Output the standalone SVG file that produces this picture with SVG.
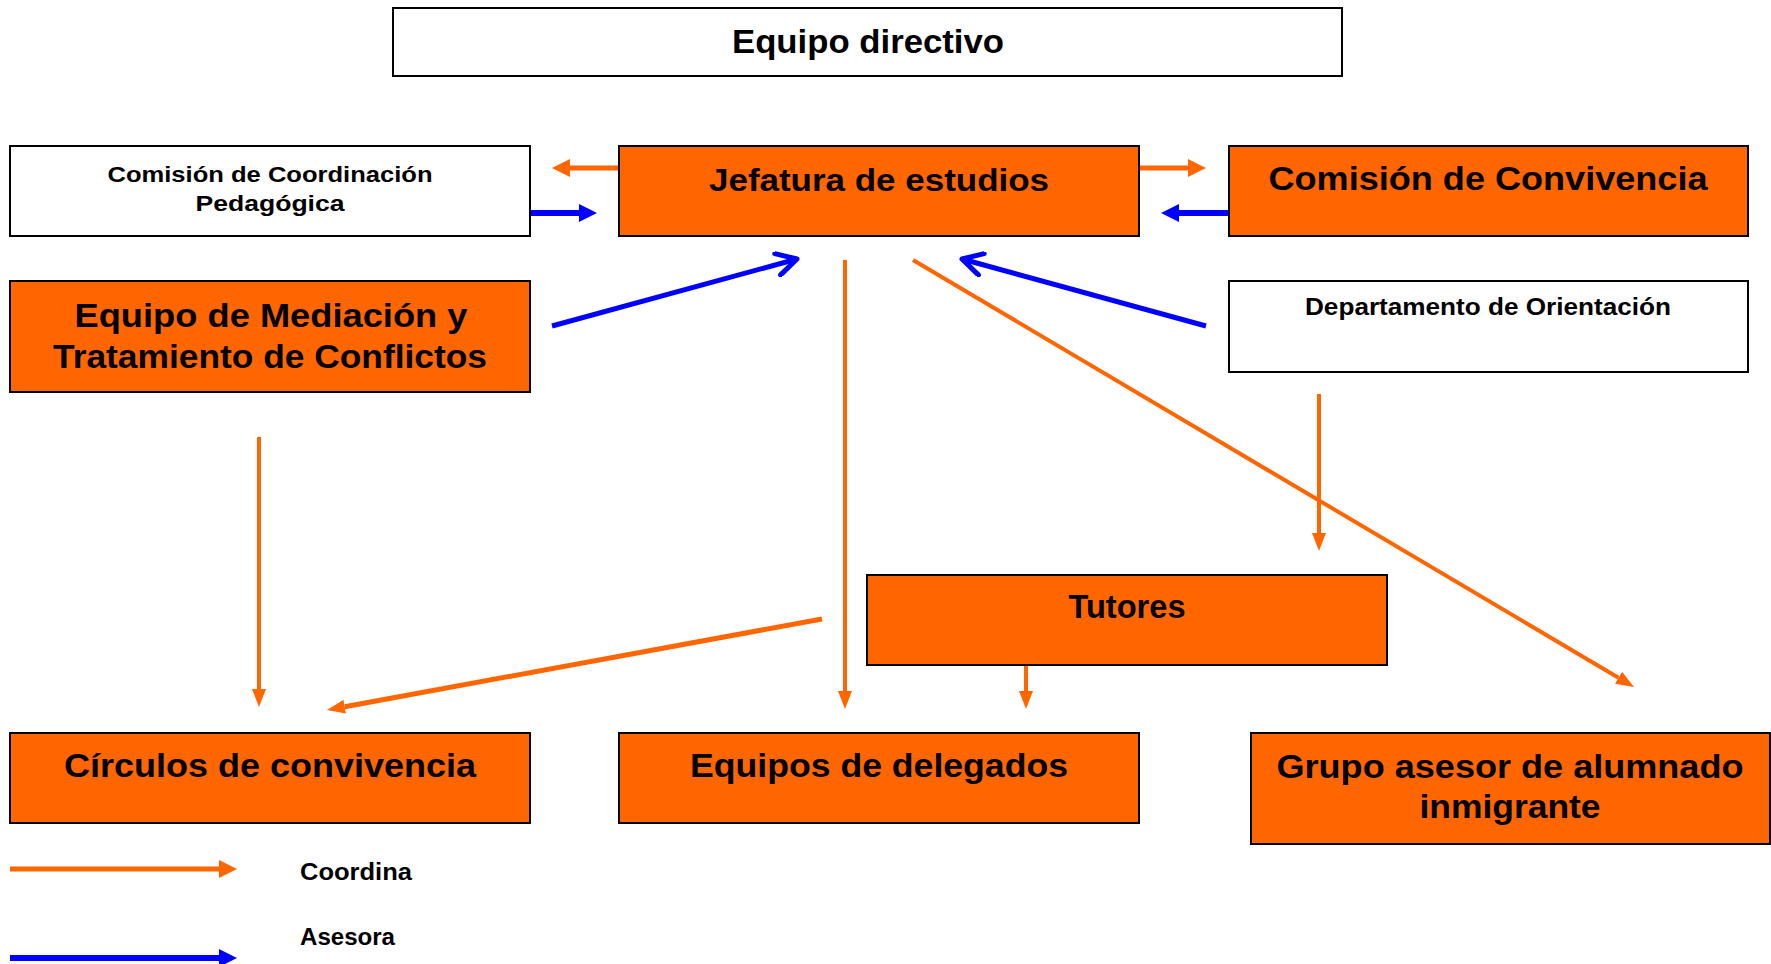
<svg xmlns="http://www.w3.org/2000/svg" width="1771" height="964" viewBox="0 0 1771 964">
<style>
.box{stroke:#000;stroke-width:2}
.w{fill:#fff}
.o{fill:#FF6600}
.t{font-family:"Liberation Sans",Arial,sans-serif;font-weight:bold;fill:#000;text-anchor:middle}
.lt{font-family:"Liberation Sans",Arial,sans-serif;font-weight:bold;fill:#000}
.oc{stroke:#FF6600;fill:none}
.bc{stroke:#0000FF;fill:none}
</style>
<defs>
<marker id="ol" viewBox="0 0 18 14" refX="0" refY="7" markerWidth="18" markerHeight="14" markerUnits="userSpaceOnUse" orient="auto"><path d="M0,0 L18,7 L0,14 z" fill="#FF6600"/></marker>
<marker id="os" viewBox="0 0 18 18" refX="0" refY="9" markerWidth="18" markerHeight="18" markerUnits="userSpaceOnUse" orient="auto"><path d="M0,0 L18,9 L0,18 z" fill="#FF6600"/></marker>
<marker id="bs" viewBox="0 0 18 18" refX="0" refY="9" markerWidth="18" markerHeight="18" markerUnits="userSpaceOnUse" orient="auto"><path d="M0,0 L18,9 L0,18 z" fill="#0000FF"/></marker>
<marker id="bo" viewBox="0 0 26 26" refX="23" refY="13" markerWidth="26" markerHeight="26" markerUnits="userSpaceOnUse" orient="auto"><path d="M3,2 L23,13 L3,24" fill="none" stroke="#0000FF" stroke-width="5" stroke-linecap="round" stroke-linejoin="round"/></marker>
</defs>

<g id="connectors">
<line class="oc" x1="619" y1="168" x2="570" y2="168" stroke-width="5" marker-end="url(#os)"/>
<line class="bc" x1="530" y1="213" x2="579" y2="213" stroke-width="6" marker-end="url(#bs)"/>
<line class="oc" x1="1139" y1="168" x2="1188" y2="168" stroke-width="5" marker-end="url(#os)"/>
<line class="bc" x1="1229" y1="213" x2="1179" y2="213" stroke-width="6" marker-end="url(#bs)"/>
<line class="bc" x1="552" y1="326" x2="797" y2="259" stroke-width="5" marker-end="url(#bo)"/>
<line class="bc" x1="1206" y1="326" x2="962" y2="259" stroke-width="5" marker-end="url(#bo)"/>
<line class="oc" x1="845" y1="260" x2="845" y2="691" stroke-width="4" marker-end="url(#ol)"/>
<line class="oc" x1="913" y1="260" x2="1618.5" y2="677.8" stroke-width="4" marker-end="url(#ol)"/>
<line class="oc" x1="1319" y1="394" x2="1319" y2="533" stroke-width="4" marker-end="url(#ol)"/>
<line class="oc" x1="259" y1="437" x2="259" y2="689" stroke-width="4" marker-end="url(#ol)"/>
<line class="oc" x1="822" y1="619" x2="344.7" y2="706.7" stroke-width="5" marker-end="url(#ol)"/>
<line class="oc" x1="1026" y1="665" x2="1026" y2="691" stroke-width="4" marker-end="url(#ol)"/>
</g>

<g id="equipo-directivo">
<rect class="box w" x="393" y="8" width="949" height="68"/>
<text class="t" x="868" y="53" font-size="34" textLength="272" lengthAdjust="spacingAndGlyphs">Equipo directivo</text>
</g>
<g id="ccp">
<rect class="box w" x="10" y="146" width="520" height="90"/>
<text class="t" x="270" y="182" font-size="22" textLength="325" lengthAdjust="spacingAndGlyphs">Comisión de Coordinación</text>
<text class="t" x="270" y="211" font-size="22" textLength="149" lengthAdjust="spacingAndGlyphs">Pedagógica</text>
</g>
<g id="jefatura">
<rect class="box o" x="619" y="146" width="520" height="90"/>
<text class="t" x="879" y="191" font-size="32" textLength="340" lengthAdjust="spacingAndGlyphs">Jefatura de estudios</text>
</g>
<g id="convivencia">
<rect class="box o" x="1229" y="146" width="519" height="90"/>
<text class="t" x="1488" y="190" font-size="34" textLength="439" lengthAdjust="spacingAndGlyphs">Comisión de Convivencia</text>
</g>
<g id="mediacion">
<rect class="box o" x="10" y="281" width="520" height="111"/>
<text class="t" x="271" y="327" font-size="34" textLength="393" lengthAdjust="spacingAndGlyphs">Equipo de Mediación y</text>
<text class="t" x="270" y="368" font-size="34" textLength="434" lengthAdjust="spacingAndGlyphs">Tratamiento de Conflictos</text>
</g>
<g id="orientacion">
<rect class="box w" x="1229" y="281" width="519" height="91"/>
<text class="t" x="1488" y="315" font-size="23" textLength="366" lengthAdjust="spacingAndGlyphs">Departamento de Orientación</text>
</g>
<g id="tutores">
<rect class="box o" x="867" y="575" width="520" height="90"/>
<text class="t" x="1127" y="618" font-size="33" textLength="117" lengthAdjust="spacingAndGlyphs">Tutores</text>
</g>
<g id="circulos">
<rect class="box o" x="10" y="733" width="520" height="90"/>
<text class="t" x="270" y="777" font-size="33" textLength="412" lengthAdjust="spacingAndGlyphs">Círculos de convivencia</text>
</g>
<g id="delegados">
<rect class="box o" x="619" y="733" width="520" height="90"/>
<text class="t" x="879" y="777" font-size="33" textLength="378" lengthAdjust="spacingAndGlyphs">Equipos de delegados</text>
</g>
<g id="grupo-asesor">
<rect class="box o" x="1251" y="733" width="519" height="111"/>
<text class="t" x="1510" y="778" font-size="33" textLength="467" lengthAdjust="spacingAndGlyphs">Grupo asesor de alumnado</text>
<text class="t" x="1510" y="818" font-size="33" textLength="181" lengthAdjust="spacingAndGlyphs">inmigrante</text>
</g>

<g id="legend">
<line class="oc" x1="10" y1="869" x2="219" y2="869" stroke-width="5" marker-end="url(#os)"/>
<text class="lt" x="300" y="880" font-size="23" textLength="112" lengthAdjust="spacingAndGlyphs">Coordina</text>
<line class="bc" x1="10" y1="958" x2="219" y2="958" stroke-width="6" marker-end="url(#bs)"/>
<text class="lt" x="300" y="945" font-size="23" textLength="95" lengthAdjust="spacingAndGlyphs">Asesora</text>
</g>
</svg>
